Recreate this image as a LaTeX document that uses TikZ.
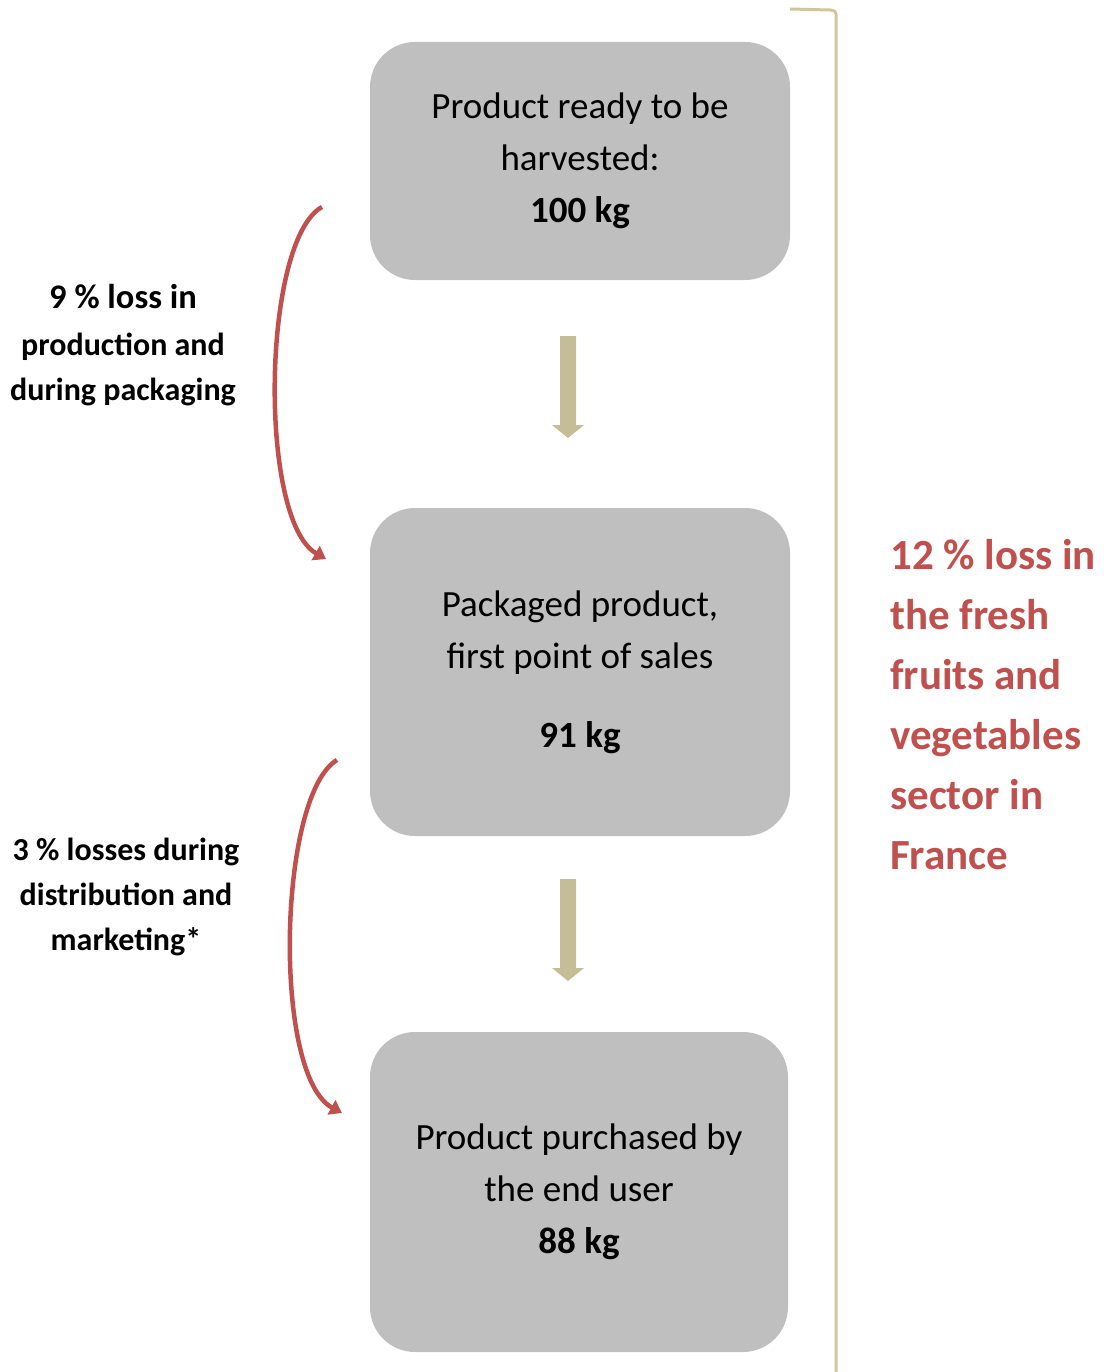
\documentclass[tikz,border=0pt]{standalone}
\usepackage{fontspec}
\setmainfont{Carlito}
\usetikzlibrary{arrows.meta}
\definecolor{boxgray}{HTML}{BFBFBF}
\definecolor{khaki}{HTML}{C4BD97}
\definecolor{lossred}{HTML}{C0504D}
\definecolor{brack}{HTML}{CFC69C}
\tikzset{
  stagebox/.style={fill=boxgray, draw=none, rounded corners=45pt, minimum width=420pt,
    align=center, inner sep=0pt, font=\fontsize{37}{52}\selectfont},
  flowarrow/.style={fill=khaki, draw=none},
  losslabel/.style={align=center, font=\bfseries\fontsize{32}{45}\selectfont, inner sep=0pt},
  lossarrow/.style={draw=lossred, line width=4.5pt, -{Triangle[length=12pt,width=16pt]}},
}
\begin{document}
\begin{tikzpicture}[x=1pt,y=-1pt]
\useasboundingbox (0,0) rectangle (1103,1372);
% boxes
\node[stagebox, minimum height=238pt] (b1) at (580,161)
  {Product ready to be\\harvested:\\\textbf{100 kg}};
\node[stagebox, minimum height=328pt] (b2) at (580,672)
  {Packaged product,\\first point of sales\\[27pt]\textbf{91 kg}};
\node[stagebox, minimum width=418pt, minimum height=320pt] (b3) at (579,1192)
  {Product purchased by\\the end user\\\textbf{88 kg}};
% flow arrows
\coordinate (a1) at (568,336);
\coordinate (a2) at (568,879);
\fill[flowarrow] (a1) ++(-8,0) -- ++(16,0) -- ++(0,89) -- ++(8,0) -- ++(-16,13) -- ++(-16,-13) -- ++(8,0) -- cycle;
\fill[flowarrow] (a2) ++(-8,0) -- ++(16,0) -- ++(0,89) -- ++(8,0) -- ++(-16,13) -- ++(-16,-13) -- ++(8,0) -- cycle;
% bracket
\coordinate (bt) at (790,9);
\coordinate (bc) at (836,14);
\coordinate (bb) at (836,1372);
\draw[brack, line width=3pt] (bt) -- (830,10) .. controls (835,10.5) and (836,12) .. (bc) -- (bb);
\node[anchor=west, align=left, inner sep=0pt, text=lossred,
  font=\bfseries\fontsize{43}{60}\selectfont] (total) at (890,705)
  {12 \% loss in\\the fresh\\fruits and\\vegetables\\sector in\\France};
% left labels
\node[losslabel] (l1) at (123,345)
  {{\fontsize{34.5}{48}\selectfont 9 \% loss in}\\[2pt]production and\\during packaging};
\node[losslabel] (l2) at (126,897)
  {3 \% losses during\\distribution and\\marketing*};
% red curved arrows
\coordinate (r1s) at (322,207);
\coordinate (r1e) at (326,559);
\coordinate (r2s) at (337,760);
\coordinate (r2e) at (342,1113);
\draw[lossarrow] (r1s) .. controls (262,240) and (258,520) .. (r1e);
\draw[lossarrow] (r2s) .. controls (278,795) and (272,1075) .. (r2e);
\end{tikzpicture}
\end{document}
